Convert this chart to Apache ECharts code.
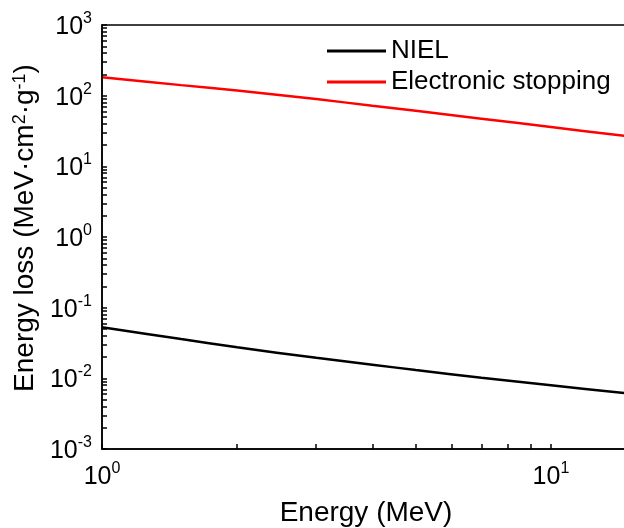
<!DOCTYPE html>
<html>
<head>
<meta charset="utf-8">
<script src="https://cdn.jsdelivr.net/npm/echarts@6/dist/echarts.min.js"></script>
<style>
  html, body { margin: 0; padding: 0; background: #fff; }
  #chart { width: 624px; height: 528px; }
</style>
</head>
<body>
<div id="chart"></div>
<script>
// Energy grid (MeV) and the two energy-loss curves (MeV·cm²·g⁻¹)
const energy     = [1, 1.5, 2, 3, 4, 5, 7, 10, 15];
const niel       = [0.0527, 0.0359, 0.0275, 0.0195, 0.0156, 0.0131, 0.0102, 0.00798, 0.00605];
const electronic = [182, 141, 118, 89.5, 72, 61, 47.3, 36, 26.4];

// Decade tick labels
const xMajor = [1, 10];
const yMajor = [0.001, 0.01, 0.1, 1, 10, 100, 1000];

const FONT = '"Liberation Sans", Arial, sans-serif';
const PLOT_LEFT = 102, PLOT_WIDTH = 528;

// log ticks: each decade plus 2..9 inside it
function logTicks(decades, maxVal) {
  const out = decades.slice();
  decades.forEach(d => {
    for (let k = 2; k <= 9; k++) {
      const v = +(k * d).toPrecision(6);
      if (v <= maxVal) out.push(v);
    }
  });
  return out.sort((a, b) => a - b);
}
const xTicks = logTicks(xMajor, 15);
const yTicks = logTicks(yMajor.slice(0, -1), 1000).concat([1000]);

function powLabel(v) {
  const e = Math.round(Math.log10(v));
  return '{b|10}{s|' + e + '}';
}
function labelRich() {
  return {
    b: { fontSize: 25, fontFamily: FONT, color: '#000', padding: [4, 0, 0, 0] },
    s: { fontSize: 16, fontFamily: FONT, color: '#000', verticalAlign: 'top' }
  };
}
function blackLine() {
  return { color: '#000', width: 1.5 };
}

const chart = echarts.init(document.getElementById('chart'), null, { renderer: 'canvas' });

chart.setOption({
  animation: false,
  backgroundColor: '#fff',
  grid: {
    left: PLOT_LEFT, top: 25, width: PLOT_WIDTH, bottom: 79,
    show: true, borderColor: '#000', borderWidth: 1.5, backgroundColor: 'transparent',
    containLabel: false, outerBoundsMode: 'none'
  },
  legend: {
    orient: 'vertical',
    left: 327, top: 38, padding: 0,
    icon: 'rect',
    itemWidth: 59, itemHeight: 3, itemGap: 5,
    textStyle: { fontSize: 26, lineHeight: 26, fontFamily: FONT, color: '#000' },
    data: ['NIEL', 'Electronic stopping']
  },
  xAxis: {
    type: 'log', min: 1, max: 15, logBase: 10,
    name: 'Energy (MeV)', nameLocation: 'middle', nameGap: 50,
    nameTextStyle: { fontSize: 28, fontFamily: FONT, color: '#000' },
    axisLine: { show: true, onZero: false, lineStyle: blackLine() },
    axisTick: { show: true, inside: true, length: 5, customValues: xTicks, lineStyle: blackLine() },
    axisLabel: { customValues: xMajor, formatter: powLabel, rich: labelRich(), margin: 12 },
    splitLine: { show: false }
  },
  yAxis: [
    {
      type: 'log', min: 0.001, max: 1000, logBase: 10, position: 'left', z: 10,
      name: 'Energy loss (MeV·cm{s|2}·g{s|-1})', nameLocation: 'middle', nameGap: 50, nameRotate: 90,
      nameTextStyle: {
        fontSize: 28, fontFamily: FONT, color: '#000', padding: [0, 0, 0, 18],
        rich: {
          s: { fontSize: 18, fontFamily: FONT, color: '#000', verticalAlign: 'top' }
        }
      },
      axisLine: { show: true, onZero: false, lineStyle: blackLine() },
      axisTick: { show: true, inside: true, length: 5, customValues: yTicks, lineStyle: blackLine() },
      axisLabel: { customValues: yMajor, formatter: powLabel, rich: labelRich(), margin: 10 },
      splitLine: { show: false }
    },
    {
      // tick comb for the left frame edge, drawn by a label-free axis moved onto it
      type: 'log', min: 0.001, max: 1000, logBase: 10, position: 'right', offset: -PLOT_WIDTH, z: 10,
      axisLine: { show: false, onZero: false },
      axisTick: { show: true, inside: false, length: 5, customValues: yTicks, lineStyle: blackLine() },
      axisLabel: { show: false },
      splitLine: { show: false }
    }
  ],
  series: [
    {
      name: 'NIEL', type: 'line', yAxisIndex: 0,
      showSymbol: false, symbol: 'none', smooth: 0.3,
      color: '#000',
      lineStyle: { color: '#000', width: 2.5 },
      data: energy.map((e, i) => [e, niel[i]])
    },
    {
      name: 'Electronic stopping', type: 'line', yAxisIndex: 0,
      showSymbol: false, symbol: 'none', smooth: 0.3,
      color: '#ff0000',
      lineStyle: { color: '#ff0000', width: 2.5 },
      data: energy.map((e, i) => [e, electronic[i]])
    }
  ]
});
</script>
</body>
</html>
